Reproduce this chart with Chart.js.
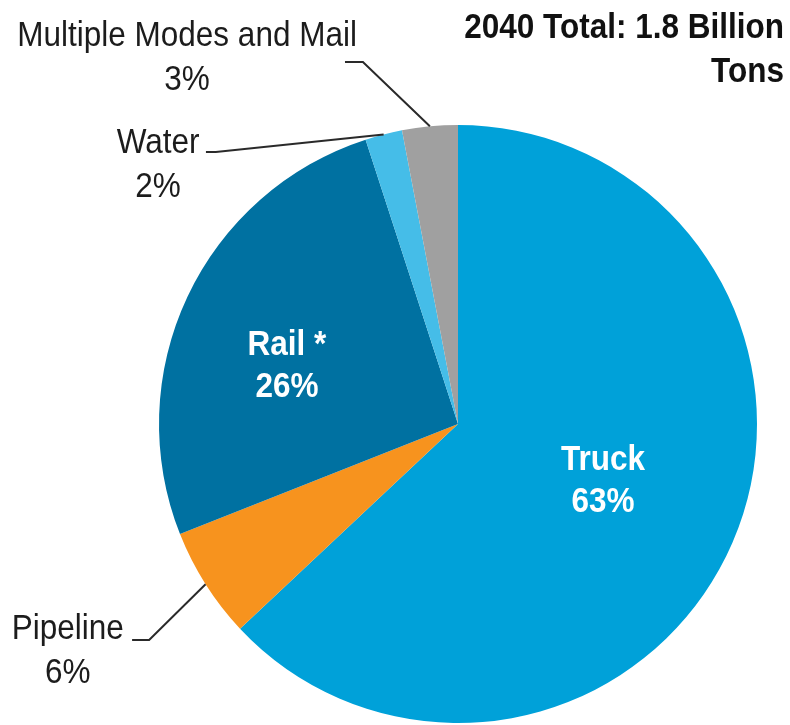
<!DOCTYPE html>
<html>
<head>
<meta charset="utf-8">
<script src="https://cdn.jsdelivr.net/npm/chart.js@4/dist/chart.umd.min.js"></script>
<style>
  html, body { margin: 0; padding: 0; background: #fff; overflow: hidden; }
  #wrap { width: 790px; height: 725px; position: relative; }
</style>
</head>
<body>
<div id="wrap"><canvas id="chart"></canvas></div>
<script>
// data
var modes = ['Truck', 'Pipeline', 'Rail *', 'Water', 'Multiple Modes and Mail'];
var shares = [63, 6, 26, 2, 3];
var colors = ['#00a1d9', '#f7931e', '#0071a1', '#45bde8', '#a0a0a0'];
var titleLines = ['2040 Total: 1.8 Billion', 'Tons'];

var FONT = '"Liberation Sans", Arial, sans-serif';
var SQUEEZE = 0.9; // reference text is a narrow face

// label layout, offsets from the pie centre in units of the radius
// (x = text centre, y = first baseline); sx/ex = leader start and elbow x
var labelStyle = [
  { inside: true, x: 0.485, y: 0.154 },
  { inside: false, x: -1.305, y: 0.719, sx: -1.09, ex: -1.033, ly: 0.722 },
  { inside: true, x: -0.572, y: -0.231 },
  { inside: false, x: -1.003, y: -0.906, sx: -0.843, ex: -0.81, ly: -0.91 },
  { inside: false, x: -0.906, y: -1.264, sx: -0.378, ex: -0.318, ly: -1.211 }
];

function squeezedText(ctx, txt, x, y, align) {
  ctx.save();
  ctx.translate(x, y);
  ctx.scale(SQUEEZE, 1);
  ctx.textAlign = align;
  ctx.fillText(txt, 0, 0);
  ctx.restore();
}

var labelPlugin = {
  id: 'pieLabels',
  afterDraw: function (chart) {
    var ctx = chart.ctx;
    var meta = chart.getDatasetMeta(0);
    ctx.save();
    ctx.textBaseline = 'alphabetic';
    for (var i = 0; i < meta.data.length; i++) {
      var arc = meta.data[i];
      var p = arc.getProps(['x', 'y', 'startAngle', 'endAngle', 'outerRadius'], true);
      var mid = (p.startAngle + p.endAngle) / 2;
      var R = p.outerRadius;
      var st = labelStyle[i];
      var pct = shares[i] + '%';
      var tx = p.x + st.x * R;
      var ty = p.y + st.y * R;
      if (st.inside) {
        ctx.fillStyle = '#ffffff';
        ctx.font = 'bold 35px ' + FONT;
        squeezedText(ctx, modes[i], tx, ty, 'center');
        squeezedText(ctx, pct, tx, ty + 42, 'center');
      } else {
        ctx.fillStyle = '#1c1c1c';
        ctx.font = '35px ' + FONT;
        squeezedText(ctx, modes[i], tx, ty, 'center');
        squeezedText(ctx, pct, tx, ty + 44, 'center');
        // leader line: short flat run, then to the slice edge
        var ly = p.y + st.ly * R;
        ctx.strokeStyle = '#2a2a2a';
        ctx.lineWidth = 2;
        ctx.beginPath();
        ctx.moveTo(p.x + st.sx * R, ly);
        ctx.lineTo(p.x + st.ex * R, ly);
        ctx.lineTo(p.x + Math.cos(mid) * R, p.y + Math.sin(mid) * R);
        ctx.stroke();
      }
    }
    // title top right
    ctx.fillStyle = '#111111';
    ctx.font = 'bold 35px ' + FONT;
    squeezedText(ctx, titleLines[0], 784, 38, 'right');
    squeezedText(ctx, titleLines[1], 784, 82, 'right');
    ctx.restore();
  }
};

new Chart(document.getElementById('chart'), {
  type: 'pie',
  data: {
    labels: modes,
    datasets: [{
      data: shares,
      backgroundColor: colors,
      borderWidth: 0,
      hoverOffset: 0,
      offset: 0
    }]
  },
  options: {
    responsive: true,
    maintainAspectRatio: false,
    animation: false,
    layout: { padding: { left: 159, right: 33, top: 125, bottom: 2 } },
    plugins: {
      legend: { display: false },
      tooltip: { enabled: false }
    }
  },
  plugins: [labelPlugin]
});
</script>
</body>
</html>
